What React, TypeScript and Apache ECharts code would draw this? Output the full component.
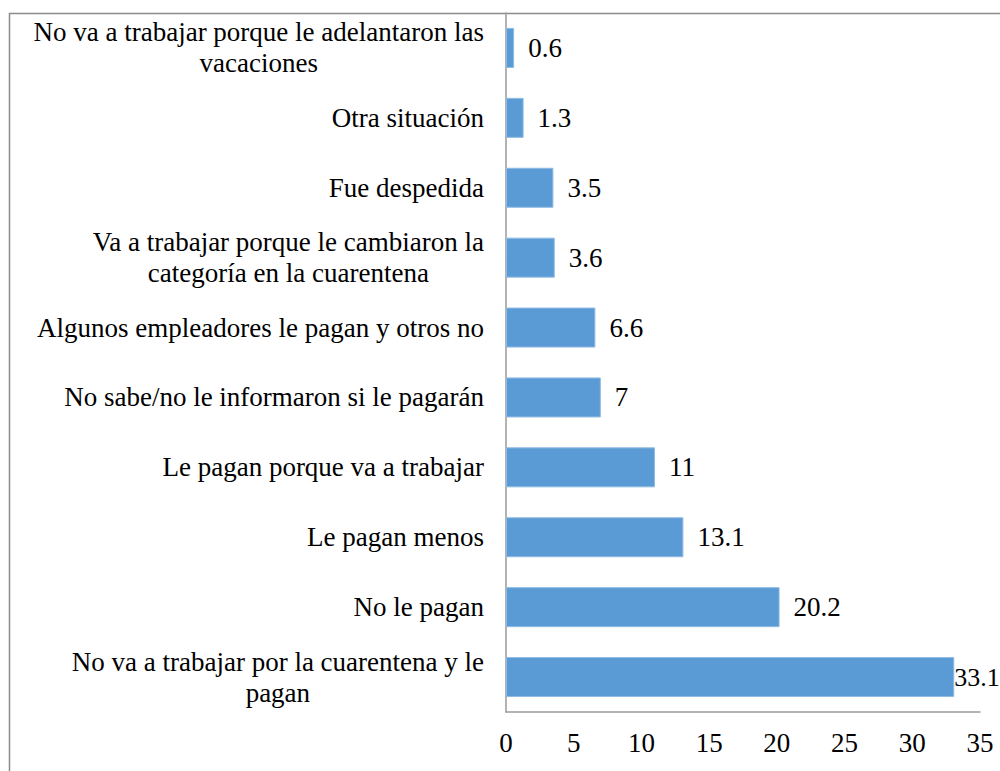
import React, { useEffect, useRef } from "react";
import * as echarts from "echarts";

const categories: string[] = [
  "No va a trabajar porque le adelantaron las\nvacaciones",
  "Otra situación",
  "Fue despedida",
  "Va a trabajar porque le cambiaron la\ncategoría en la cuarentena",
  "Algunos empleadores le pagan y otros no",
  "No sabe/no le informaron si le pagarán",
  "Le pagan porque va a trabajar",
  "Le pagan menos",
  "No le pagan",
  "No va a trabajar por la cuarentena y le\npagan",
];

const values: number[] = [0.6, 1.3, 3.5, 3.6, 6.6, 7, 11, 13.1, 20.2, 33.1];

const xTicks = { min: 0, max: 35, interval: 5 };

const FONT = "Liberation Serif";

export default function App() {
  const ref = useRef<HTMLDivElement>(null);

  useEffect(() => {
    if (!ref.current) return;
    const chart = echarts.init(ref.current, undefined, { renderer: "svg" });
    const lastIdx = values.length - 1;
    chart.setOption({
      animation: false,
      backgroundColor: "#ffffff",
      textStyle: { fontFamily: FONT },
      graphic: [
        {
          type: "rect",
          shape: { x: 9.5, y: 13.5, width: 1200, height: 1000 },
          style: { fill: "none", stroke: "#8c8c8c", lineWidth: 1.5 },
          silent: true,
          z: -1,
        },
      ],
      grid: { left: 506, right: 20, top: 13, height: 699, containLabel: false },
      xAxis: {
        type: "value",
        min: xTicks.min,
        max: xTicks.max,
        interval: xTicks.interval,
        splitLine: { show: false },
        axisLine: { show: true, lineStyle: { color: "#9a9a9a", width: 1.5 } },
        axisTick: { show: false },
        axisLabel: {
          margin: 17,
          color: "#000",
          fontFamily: FONT,
          fontSize: 27,
        },
      },
      yAxis: {
        type: "category",
        inverse: true,
        data: categories,
        axisLine: { show: true, lineStyle: { color: "#9a9a9a", width: 1.5 } },
        axisTick: { show: false },
        axisLabel: {
          margin: 22,
          color: "#000",
          fontFamily: FONT,
          fontSize: 27,
          lineHeight: 31,
          formatter: (v: string) =>
            v
              .split("\n")
              .map((l) => "{c|" + l + "}")
              .join("\n"),
          rich: {
            c: {
              align: "center",
              color: "#000",
              fontFamily: FONT,
              fontSize: 27,
              lineHeight: 31,
            },
          },
        },
      },
      series: [
        {
          type: "bar",
          barWidth: 40,
          data: values.map((v, i) =>
            i === lastIdx
              ? { value: v, label: { distance: 0, fontSize: 26 } }
              : v
          ),
          itemStyle: {
            color: "#5b9bd5",
            borderColor: "#8fbbe3",
            borderWidth: 1,
          },
          label: {
            show: true,
            position: "right",
            distance: 14,
            color: "#000",
            fontFamily: FONT,
            fontSize: 27,
          },
        },
      ],
    });
    return () => chart.dispose();
  }, []);

  return (
    <div
      ref={ref}
      style={{ position: "fixed", left: 0, top: 0, width: 1000, height: 771 }}
    />
  );
}
